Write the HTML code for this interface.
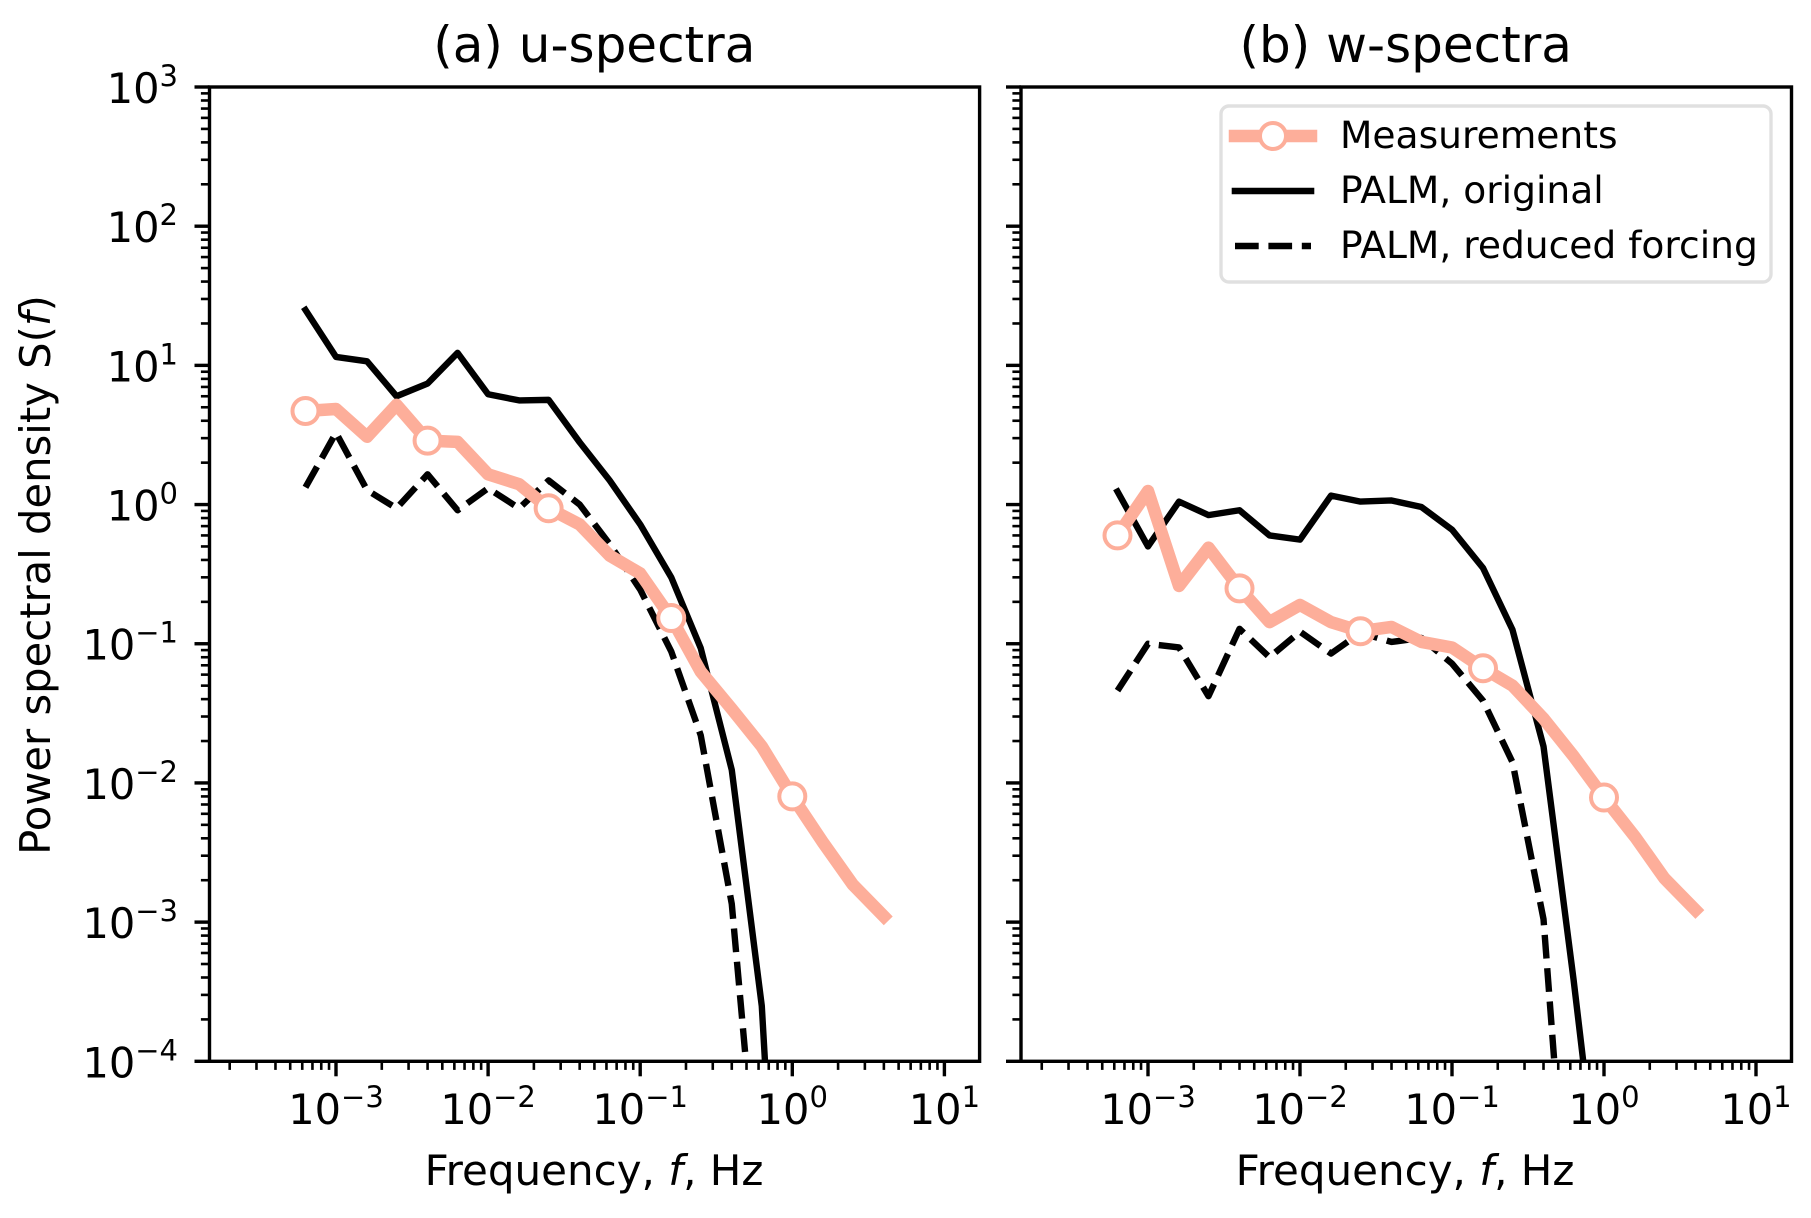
<!DOCTYPE html>
<html>
<head>
<meta charset="utf-8">
<title>Power spectra comparison</title>
<style>
html,body{margin:0;padding:0;background:#fff;overflow:hidden;width:1811px;height:1218px;}
svg{display:block;overflow:hidden;}
text{font-family:"DejaVu Sans","Liberation Sans",sans-serif;fill:#000;}
</style>
</head>
<body>
<svg id="chart" width="1811" height="1218" viewBox="0 0 1811 1218" xmlns="http://www.w3.org/2000/svg">
  <rect x="0" y="0" width="1811" height="1218" fill="#fff"/>
  <text x="594.3" y="62" font-size="50" text-anchor="middle">(a) u-spectra</text>
  <text x="1405.7" y="62" font-size="50" text-anchor="middle">(b) w-spectra</text>
  <text x="594" y="1185" font-size="42" text-anchor="middle">Frequency, <tspan font-style="italic">f</tspan>, Hz</text>
  <text x="1405" y="1185" font-size="42" text-anchor="middle">Frequency, <tspan font-style="italic">f</tspan>, Hz</text>
  <text transform="translate(50,575) rotate(-90)" font-size="41.7" text-anchor="middle">Power spectral density S(<tspan font-style="italic">f</tspan>)</text>
  <g id="panels"></g>
  <g>
    <rect x="1221" y="106" width="550" height="176" rx="8" ry="8" fill="#fff" fill-opacity="0.8" stroke="#e0e0e0" stroke-width="3.4"/>
    <line x1="1235" y1="136" x2="1311" y2="136" stroke="#fdae9a" stroke-width="12.5" stroke-linecap="square"/>
    <circle cx="1273" cy="136" r="13" fill="#fff" stroke="#fdae9a" stroke-width="4"/>
    <text x="1340" y="148" font-size="37.6">Measurements</text>
    <line x1="1235" y1="191" x2="1311" y2="191" stroke="#000" stroke-width="6.6" stroke-linecap="square"/>
    <text x="1340" y="203" font-size="37.6">PALM, original</text>
    <line x1="1235" y1="246" x2="1311" y2="246" stroke="#000" stroke-width="6.6" stroke-dasharray="23.7 9.7"/>
    <text x="1340" y="258" font-size="37.6">PALM, reduced forcing</text>
  </g>
</svg>
<script>
// Shared axis data
const frequencies = [0.00063,0.001,0.0016,0.0025,0.004,0.0063,0.01,0.016,0.025,0.04,0.063,0.1,0.16,0.25,0.4,0.63,1,1.6,2.5,4];
const xTickExponents = [-3,-2,-1,0,1];
const yTickExponents = [-4,-3,-2,-1,0,1,2,3];

// Panel (a) u-spectra values
const uMeasured = [4.7,4.86,3.07,5.2,2.88,2.82,1.65,1.4,0.94,0.72,0.43,0.32,0.153,0.063,0.034,0.0183,0.008,0.0037,0.00186,0.0011];
const uPalmOriginal = [25,11.5,10.7,6.0,7.4,12.3,6.2,5.6,5.65,2.8,1.49,0.72,0.3,0.093,0.0124,0.00025,0.00000004];
const uPalmReduced = [1.33,3.28,1.27,0.94,1.65,0.91,1.31,0.94,1.49,1.0,0.52,0.245,0.088,0.022,0.00135,0.0000054];

// Panel (b) w-spectra values
const wMeasured = [0.6,1.25,0.26,0.49,0.25,0.143,0.19,0.143,0.123,0.132,0.103,0.094,0.0667,0.05,0.029,0.0156,0.00785,0.0041,0.00206,0.00122];
const wPalmOriginal = [1.24,0.5,1.05,0.84,0.91,0.6,0.56,1.16,1.05,1.07,0.96,0.66,0.35,0.126,0.0183,0.00039,0.0000055];
const wPalmReduced = [0.046,0.1,0.094,0.042,0.128,0.08,0.122,0.085,0.12,0.103,0.11,0.072,0.039,0.0141,0.00105,0.0000015];

const markerEvery = 4;
const SVGNS = 'http://www.w3.org/2000/svg';
const CORAL = '#fdae9a';

const yTop = 87, yBottom = 1061.3, yDecade = (yBottom - yTop) / 7;
function yScale(v) { return yTop + (3 - Math.log10(v)) * yDecade; }

function make(tag, attrs, parent) {
  const el = document.createElementNS(SVGNS, tag);
  for (const k in attrs) el.setAttribute(k, attrs[k]);
  parent.appendChild(el);
  return el;
}
// Builds polyline points, ending the line where it leaves the bottom of the axes.
function pointsFor(values, xScale) {
  const pts = [];
  for (let i = 0; i < values.length; i++) {
    const px = xScale(frequencies[i]);
    const py = yScale(values[i]);
    if (py > yBottom && i > 0) {
      const qx = xScale(frequencies[i - 1]);
      const qy = yScale(values[i - 1]);
      const t = (yBottom - qy) / (py - qy);
      pts.push((qx + (px - qx) * t).toFixed(2) + ',' + yBottom.toFixed(2));
      break;
    }
    pts.push(px.toFixed(2) + ',' + py.toFixed(2));
  }
  return pts.join(' ');
}
function powerLabel(parent, x, y, exp, anchor) {
  const t = make('text', {x: x, y: y, 'font-size': 41.5, 'text-anchor': anchor}, parent);
  t.appendChild(document.createTextNode('10'));
  const s = make('tspan', {dy: -17, 'font-size': 29}, t);
  s.textContent = exp < 0 ? '\u2212' + Math.abs(exp) : String(exp);
  return t;
}

function drawPanel(cfg) {
  const root = document.getElementById('panels');
  const xScale = v => cfg.x10m3 + (Math.log10(v) + 3) * cfg.xDecade;
  const g = make('g', {}, root);
  
  

  const clip = make('clipPath', {id: cfg.id + '-clip'}, g);
  make('rect', {x: cfg.left, y: yTop, width: cfg.right - cfg.left, height: yBottom - yTop}, clip);

  // x ticks
  for (let e = -4; e <= 1; e++) {
    for (let m = 1; m < 10; m++) {
      const px = xScale(m * Math.pow(10, e));
      if (px < cfg.left || px > cfg.right) continue;
      const major = m === 1;
      const tick = make('line', {x1: px, x2: px, y1: yBottom, y2: yBottom + (major ? 15 : 8.6), stroke: '#000', 'stroke-width': major ? 3.4 : 2.6}, g);
      
      
    }
  }
  xTickExponents.forEach(e => {
    const label = powerLabel(g, xScale(Math.pow(10, e)), 1124, e, 'middle');
    
    
  });

  // y ticks
  for (let e = -4; e <= 3; e++) {
    for (let m = 1; m < 10; m++) {
      if (e === 3 && m > 1) continue;
      const py = yScale(m * Math.pow(10, e));
      const major = m === 1;
      const tick = make('line', {x1: cfg.left, x2: cfg.left - (major ? 15 : 8.6), y1: py, y2: py, stroke: '#000', 'stroke-width': major ? 3.4 : 2.6}, g);
      
      
    }
  }
  if (cfg.showYLabels) {
    yTickExponents.forEach(e => {
      const label = powerLabel(g, 178, yScale(Math.pow(10, e)) + 16, e, 'end');
      
      
    });
  }

  // series
  const clipG = make('g', {'clip-path': 'url(#' + cfg.id + '-clip)'}, g);
  const original = make('polyline', {points: pointsFor(cfg.original, xScale), fill: 'none', stroke: '#000', 'stroke-width': 6.4, 'stroke-linejoin': 'round', 'stroke-linecap': 'square'}, clipG);
  
  
  const reduced = make('polyline', {points: pointsFor(cfg.reduced, xScale), fill: 'none', stroke: '#000', 'stroke-width': 6.4, 'stroke-linejoin': 'round', 'stroke-dasharray': '23.7 9.7'}, clipG);
  
  
  const measured = make('polyline', {points: pointsFor(cfg.measured, xScale), fill: 'none', stroke: CORAL, 'stroke-width': 12.5, 'stroke-linejoin': 'round', 'stroke-linecap': 'square'}, clipG);
  
  

  cfg.measured.forEach((v, i) => {
    if (i % markerEvery !== 0) return;
    const c = make('circle', {cx: xScale(frequencies[i]), cy: yScale(v), r: 13, fill: '#fff', stroke: CORAL, 'stroke-width': 4}, clipG);
    
    
  });

  // spines
  const frame = make('rect', {x: cfg.left, y: yTop, width: cfg.right - cfg.left, height: yBottom - yTop, fill: 'none', stroke: '#000', 'stroke-width': 3.4}, g);
  
  
}

drawPanel({id: 'u-spectra', left: 209.5, right: 979.6, x10m3: 336, xDecade: 152.1, showYLabels: true,
  measured: uMeasured, original: uPalmOriginal, reduced: uPalmReduced});
drawPanel({id: 'w-spectra', left: 1021, right: 1791.5, x10m3: 1148, xDecade: 152, showYLabels: false,
  measured: wMeasured, original: wPalmOriginal, reduced: wPalmReduced});
</script>
</body>
</html>
